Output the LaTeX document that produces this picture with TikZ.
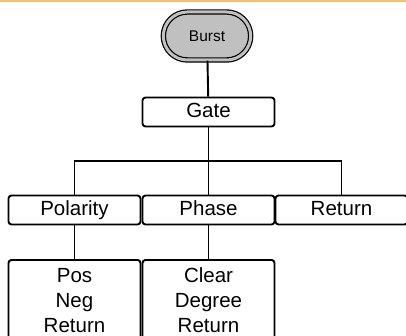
\documentclass[tikz,border=0pt]{standalone}
\usepackage{fontspec}
\setmainfont{Liberation Sans}
\usetikzlibrary{shapes.misc}
\definecolor{topline}{RGB}{248,190,120}
\definecolor{burstgray}{RGB}{192,192,192}
\tikzset{
  basebox/.style={draw, rounded corners=3pt, line width=1.9pt, minimum width=132pt,
    minimum height=29pt, inner sep=0pt, font=\fontsize{20.5}{25}\selectfont},
  menubox/.style={basebox, text height=15pt, text depth=4pt},
  listbox/.style={basebox, anchor=north, align=center, inner ysep=8pt},
  burstbox/.style={rounded rectangle, draw=black, fill=burstgray, line width=1.2pt,
    double=burstgray, double distance=3pt, minimum width=94pt, minimum height=48pt,
    font=\fontsize{15.5}{18}\selectfont},
  conn/.style={line width=1.9pt}
}
\begin{document}
\begin{tikzpicture}[x=1pt,y=-1pt]
\useasboundingbox (0,0) rectangle (406,336);

% orange rule along the top
\draw[topline, line width=2.5pt] (0,1) -- (406,1);

% root and first level
\node[burstbox] (burst) at (207,36) {Burst};
\node[menubox] (gate) at (208.5,112) {Gate};

% second level
\node[menubox] (pol) at (74.5,210) {Polarity};
\node[menubox] (pha) at (208.5,210) {Phase};
\node[menubox] (ret) at (341.5,210) {Return};

% option lists
\node[listbox] (polsub) at (74.5,259) {Pos\\Neg\\Return};
\node[listbox] (phasub) at (208.5,259) {Clear\\Degree\\Return};

% connectors
\coordinate (split) at (208.5,161);
\draw[conn] (burst) -- (gate);
\draw[conn] (gate) -- (split);
\draw[conn] (pol.north) |- (split) -| (ret.north);
\draw[conn] (split) -- (pha);
\draw[conn] (pol) -- (polsub);
\draw[conn] (pha) -- (phasub);
\end{tikzpicture}
\end{document}
